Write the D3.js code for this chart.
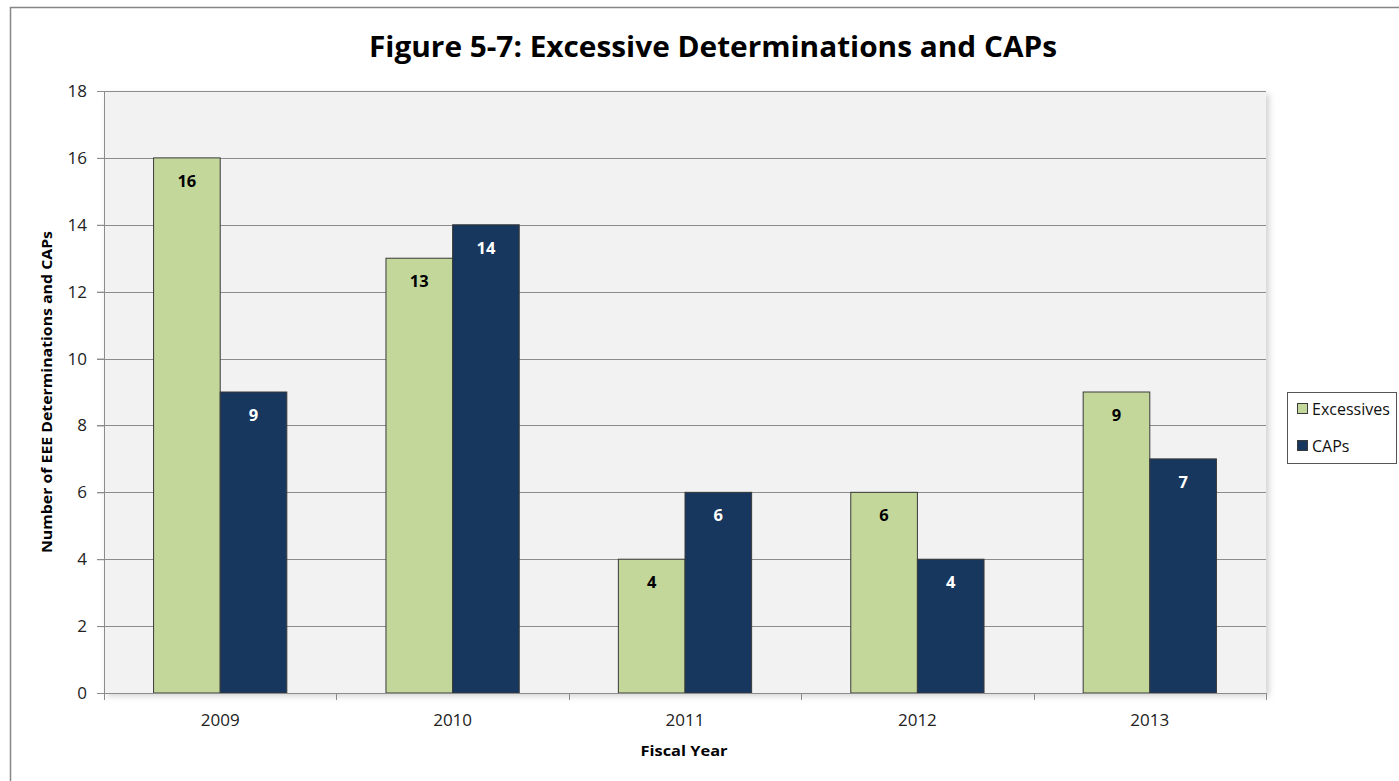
<!DOCTYPE html>
<html><head><meta charset="utf-8">
<script src="https://cdn.jsdelivr.net/npm/d3@7"></script>
<style>body{margin:0;background:#fff}svg{display:block}text{font-family:"Open Sans","Noto Sans",sans-serif}</style>
</head><body>
<svg id="c" width="1399" height="781"></svg>
<script>
const categories = ["2009","2010","2011","2012","2013"];
const seriesNames = ["Excessives","CAPs"];
const excessives = [16,13,4,6,9];
const caps = [9,14,6,4,7];
const yTicks = [0,2,4,6,8,10,12,14,16,18];
const colors = ["#c4d79b","#17375e"];
const labelColors = ["#000","#fff"];

const svg = d3.select("#c");
const defs = svg.append("defs");
const f = defs.append("filter").attr("id","sh").attr("x","-5%").attr("y","-5%").attr("width","115%").attr("height","115%");
f.append("feDropShadow").attr("dx",3).attr("dy",3).attr("stdDeviation",3).attr("flood-color","#000").attr("flood-opacity",0.18);

// chart border
svg.append("rect").attr("x",10.5).attr("y",7.5).attr("width",1500).attr("height",900)
  .attr("fill","#fff").attr("stroke","#868686").attr("stroke-width",1.5);

const L=104,T=91,R=1266,B=693;
const x = d3.scaleBand().domain(categories).range([L,R]).paddingInner(0).paddingOuter(0);
const y = d3.scaleLinear().domain([0,18]).range([B,T]);
const inner = d3.scaleBand().domain(seriesNames).range([0,x.bandwidth()]).paddingInner(0).paddingOuter(0.744);

svg.append("rect").attr("x",L).attr("y",T).attr("width",R-L).attr("height",B-T)
  .attr("fill","#f2f2f2").attr("filter","url(#sh)");

// gridlines
svg.append("g").selectAll("line").data(yTicks.filter(d=>d>0)).join("line")
  .attr("x1",L-7).attr("x2",R).attr("y1",d=>Math.round(y(d))+0.5).attr("y2",d=>Math.round(y(d))+0.5)
  .attr("stroke","#8c8c8c").attr("stroke-width",1);

// y axis
const ya = svg.append("g").attr("transform",`translate(${L},0)`)
  .call(d3.axisLeft(y).tickValues(yTicks).tickSize(7).tickPadding(10).tickFormat(d3.format("d")));
ya.select(".domain").attr("stroke","#8c8c8c").attr("d",`M0.5,${T}V${B}`);
ya.selectAll(".tick line").attr("stroke","#8c8c8c");
ya.selectAll("text").attr("font-size",17).attr("fill","#222");

// bars
const data = categories.map((c,i)=>({c, vals:[excessives[i],caps[i]]}));
const g = svg.append("g");
data.forEach(d=>{
  d.vals.forEach((v,j)=>{
    const bx = x(d.c)+inner(seriesNames[j]);
    g.append("rect").attr("x",bx).attr("y",y(v)).attr("width",inner.bandwidth()).attr("height",B-y(v))
      .attr("fill",colors[j]).attr("stroke","#3a3a3a").attr("stroke-width",1);
    g.append("text").attr("x",bx+inner.bandwidth()/2).attr("y",y(v)+29).attr("text-anchor","middle")
      .attr("font-size",16.5).attr("font-weight","bold").attr("fill",labelColors[j]).text(v);
  });
});

// x axis
const xa = svg.append("g").attr("transform",`translate(0,${B})`)
  .call(d3.axisBottom(x).tickSize(0).tickPadding(21));
xa.select(".domain").attr("stroke","#8c8c8c").attr("d",`M${L},0.5H${R}`);
xa.selectAll("text").attr("font-size",17).attr("fill","#222");
const seps = categories.map(c=>x(c)).concat([R]);
svg.append("g").selectAll("line").data(seps).join("line")
  .attr("x1",d=>Math.round(d)+0.5).attr("x2",d=>Math.round(d)+0.5).attr("y1",B).attr("y2",B+7)
  .attr("stroke","#8c8c8c");

// title
svg.append("text").attr("x",713).attr("y",57).attr("text-anchor","middle").attr("font-size",28)
  .attr("font-weight","bold").attr("fill","#000").attr("textLength",688).attr("lengthAdjust","spacingAndGlyphs")
  .text("Figure 5-7: Excessive Determinations and CAPs");

// axis titles
svg.append("text").attr("transform","translate(52,392) rotate(-90)").attr("text-anchor","middle")
  .attr("font-size",15).attr("font-weight","bold").attr("fill","#000").attr("textLength",322).attr("lengthAdjust","spacingAndGlyphs")
  .text("Number of EEE Determinations and CAPs");
svg.append("text").attr("x",684).attr("y",756).attr("text-anchor","middle")
  .attr("font-size",15).attr("font-weight","bold").attr("fill","#000").attr("textLength",87).attr("lengthAdjust","spacingAndGlyphs")
  .text("Fiscal Year");

// legend
const lg = svg.append("g");
lg.append("rect").attr("x",1287.5).attr("y",392.5).attr("width",109).attr("height",71)
  .attr("fill","#fff").attr("stroke","#555").attr("stroke-width",1);
seriesNames.forEach((s,i)=>{
  const yy = 409 + i*37;
  lg.append("rect").attr("x",1297.5).attr("y",yy-5.5).attr("width",10).attr("height",10)
    .attr("fill",colors[i]).attr("stroke","#3a3a3a");
  lg.append("text").attr("x",1312).attr("y",yy+5.5).attr("font-size",16).attr("fill","#111").text(s);
});
</script>
</body></html>
